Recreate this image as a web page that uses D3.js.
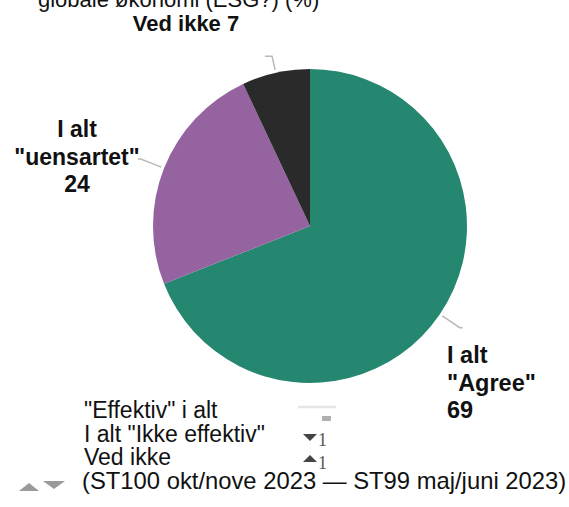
<!DOCTYPE html>
<html>
<head>
<meta charset="utf-8">
<script src="https://cdn.jsdelivr.net/npm/d3@7"></script>
<style>
  html, body { margin: 0; padding: 0; background: #fff; }
  svg { display: block; font-family: "Liberation Sans", Arial, sans-serif; }
</style>
</head>
<body>
<svg id="chart" width="569" height="507"></svg>
<script>
// Survey answers, share in percent
const categories = ['I alt "Agree"', 'I alt "uensartet"', 'Ved ikke'];
const values = [69, 24, 7];
const colors = ['#268771', '#9563a0', '#2a2a2a'];

// Slice label lines (last line carries the value)
const labelLines = [
  ['I alt', '"Agree"'],
  ['I alt', '"uensartet"'],
  []
];

// Legend rows with change since previous wave
const legendRows = ['"Effektiv" i alt', 'I alt "Ikke effektiv"', 'Ved ikke'];
const legendChange = [0, -1, 1];
const titleText = 'globale økonomi (ESG?) (%)';
const periodText = '(ST100 okt/nove 2023 — ST99 maj/juni 2023)';

const svg = d3.select('#chart');
const cx = 310, cy = 226, r = 157;

// Title (partly above the top edge)
svg.append('text')
  .attr('x', 38).attr('y', 7)
  .attr('font-size', 22)
  .attr('fill', '#111')
  .text(titleText);

const pie = d3.pie().sort(null).value(d => d)(values);
const arc = d3.arc().innerRadius(0).outerRadius(r);

const g = svg.append('g').attr('transform', `translate(${cx},${cy})`);
g.selectAll('path.slice')
  .data(pie)
  .join('path')
  .attr('class', 'slice')
  .attr('d', arc)
  .attr('fill', (d, i) => colors[i]);

// Leader lines from each slice edge
const polar = (a, rad) => [Math.sin(a) * rad, -Math.cos(a) * rad];
const leaderOuter = [24, 25, 17];
g.selectAll('polyline.leader')
  .data(pie)
  .join('polyline')
  .attr('class', 'leader')
  .attr('fill', 'none')
  .attr('stroke', '#b8b8b8')
  .attr('stroke-width', 1.5)
  .attr('points', (d, i) => {
    const a = (d.startAngle + d.endAngle) / 2;
    const p1 = polar(a, r + 3);
    const p2 = polar(a, r + leaderOuter[i]);
    const dir = Math.sin(a) >= 0 ? 1 : -1;
    const p3 = [p2[0] + dir * (i === 2 ? 7 : 3), p2[1]];
    return [p1, p2, p3].map(p => p.join(',')).join(' ');
  });

// Slice labels
const labelLayout = [
  { x: 447, y: 363, anchor: 'start', size: 23.5 },
  { x: 77, y: 137, anchor: 'middle', size: 23 },
  { x: 186, y: 31, anchor: 'middle', size: 22 }
];
pie.forEach((d, i) => {
  const L = labelLayout[i];
  const lines = labelLines[i].length ? labelLines[i].concat([String(values[i])])
                                     : [categories[i] + ' ' + values[i]];
  const t = svg.append('text')
    .attr('x', L.x).attr('y', L.y)
    .attr('text-anchor', L.anchor)
    .attr('font-size', L.size)
    .attr('font-weight', 'bold')
    .attr('fill', '#111');
  lines.forEach((s, k) => {
    t.append('tspan').attr('x', L.x).attr('dy', k === 0 ? 0 : 27.5).text(s);
  });
});

// Legend
const legY = [418, 442, 465];
legendRows.forEach((s, i) => {
  svg.append('text')
    .attr('x', 84).attr('y', legY[i])
    .attr('font-size', 23)
    .attr('fill', '#111')
    .text(s);
});
svg.append('line')
  .attr('x1', 298).attr('x2', 336).attr('y1', 407).attr('y2', 407)
  .attr('stroke', '#e6e6e6').attr('stroke-width', 2.5);

const tri = (x, y, w, h, up) => up
  ? `M${x},${y + h}L${x + w / 2},${y}L${x + w},${y + h}Z`
  : `M${x},${y}L${x + w},${y}L${x + w / 2},${y + h}Z`;

legendChange.forEach((c, i) => {
  const y = legY[i];
  if (c === 0) {
    svg.append('rect').attr('x', 322).attr('y', y - 2).attr('width', 9).attr('height', 5)
      .attr('fill', '#b0b0b0');
  } else {
    svg.append('path').attr('d', tri(303, y - (c > 0 ? 10 : 8), 14, 7, c > 0))
      .attr('fill', '#444');
    svg.append('text').attr('x', 318).attr('y', y + 4)
      .attr('font-family', '"Liberation Serif", serif')
      .attr('font-size', 18).attr('fill', '#555')
      .text(Math.abs(c));
  }
});

// Period footnote
svg.append('path').attr('d', tri(19, 483, 20, 8, true)).attr('fill', '#9a9a9a');
svg.append('path').attr('d', tri(43, 481, 22, 8, false)).attr('fill', '#9a9a9a');
svg.append('text')
  .attr('x', 82).attr('y', 489)
  .attr('font-size', 23.8)
  .attr('fill', '#111')
  .text(periodText);
</script>
</body>
</html>
